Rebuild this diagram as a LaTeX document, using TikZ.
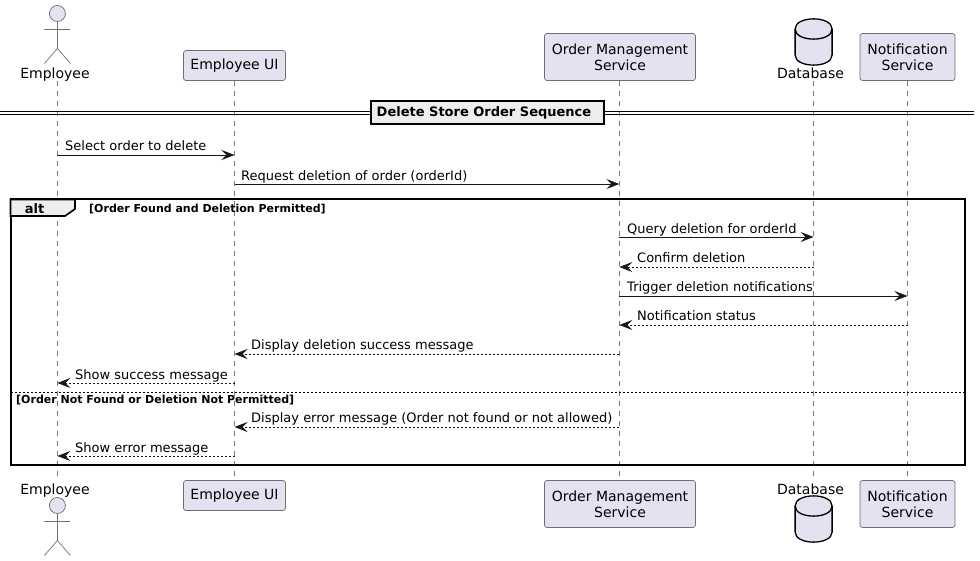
\documentclass[tikz,border=0pt]{standalone}
\usepackage{fontspec}
\setmainfont{DejaVu Sans}
\usetikzlibrary{arrows.meta}
\definecolor{partfill}{HTML}{E2E2F0}
\definecolor{partline}{HTML}{6F6F6F}
\definecolor{tabfill}{HTML}{EEEEEE}
\definecolor{lifegray}{HTML}{7A7A7A}
\definecolor{inkdark}{HTML}{181818}
\tikzset{
    part/.style={draw=partline, fill=partfill, line width=0.7pt, rounded corners=2.5pt,
        inner sep=0pt, align=center, font=\fontsize{14}{16}\selectfont},
    partname/.style={inner sep=0pt, font=\fontsize{14}{16}\selectfont, text height=10.5pt, text depth=3pt},
    lifeline/.style={draw=lifegray, line width=0.6pt, dash pattern=on 5pt off 5pt},
    msg/.style={draw=inkdark, line width=0.9pt, -{Stealth[length=13pt,width=10pt,inset=5pt]}},
    reply/.style={msg, dash pattern=on 2pt off 2pt},
    msgtext/.style={anchor=base west, inner sep=0pt, font=\fontsize{13}{15}\selectfont},
    guard/.style={anchor=base west, inner sep=0pt, font=\fontsize{11}{13}\selectfont\bfseries},
    actor/.pic={
        \draw[partline, fill=partfill, line width=0.7pt] (0,0) circle (8pt);
        \draw[partline, line width=0.7pt] (0,8) -- (0,35) (-13,16) -- (13,16)
            (-13,50) -- (0,35) -- (13,50);
    },
    dbase/.pic={
        \draw[fill=partfill, line width=1.3pt] (-18.5,10) .. controls (-18.5,-3.5) and (18.5,-3.5) .. (18.5,10)
            -- (18.5,36) .. controls (18.5,49.5) and (-18.5,49.5) .. (-18.5,36) -- cycle;
        \draw[line width=1.3pt] (-18.5,10) .. controls (-18.5,23.5) and (18.5,23.5) .. (18.5,10);
    },
}
\begin{document}
\begin{tikzpicture}[x=1pt, y=-1pt]
    \useasboundingbox (0,0) rectangle (980,561);

    % participants, top row
    \node[partname] (emp) at (55, 75) {Employee};
    \node[part, minimum width=102pt, minimum height=30pt] (ui)  at (234.5, 65.5) {Employee UI};
    \node[part, minimum width=151pt, minimum height=47pt] (oms) at (620,   57)   {Order Management\\Service};
    \node[partname] (db) at (810.5, 75) {Database};
    \node[part, minimum width=95pt,  minimum height=47pt] (ns)  at (907.5, 57)   {Notification\\Service};

    % participants, bottom row
    \node[partname] (empB) at (55, 491) {Employee};
    \node[part, minimum width=102pt, minimum height=30pt] (uiB)  at (234.5, 495.5) {Employee UI};
    \node[part, minimum width=151pt, minimum height=47pt] (omsB) at (620,   504)   {Order Management\\Service};
    \node[partname] (dbB) at (810.5, 491) {Database};
    \node[part, minimum width=95pt,  minimum height=47pt] (nsB)  at (907.5, 504)   {Notification\\Service};

    \pic at (57.4, 13.5)  {actor};
    \pic at (57.4, 505.5) {actor};
    \pic at (813.6, 19)   {dbase};
    \pic at (813.6, 496)  {dbase};

    % lifelines
    \coordinate (empL) at (57.4, 81);
    \coordinate (omsL) at (619.3, 81);
    \coordinate (dbL)  at (813.6, 81);
    \draw[lifeline] (empL)     -- (empL |- uiB.north);
    \draw[lifeline] (ui.south) -- (uiB.north);
    \draw[lifeline] (omsL)     -- (omsL |- uiB.north);
    \draw[lifeline] (dbL)      -- (dbL |- uiB.north);
    \draw[lifeline] (ns.south) -- (nsB.north);

    % divider
    \coordinate (divL) at (0, 113);
    \coordinate (divR) at (974, 113);
    \draw[line width=0.9pt] ([yshift=-1.5pt]divL) -- ([yshift=-1.5pt]divR);
    \draw[line width=0.9pt] ([yshift=1.5pt]divL)  -- ([yshift=1.5pt]divR);
    \node[draw, fill=tabfill, line width=2pt, inner sep=0pt, minimum width=233pt, minimum height=23pt] (title) at (487, 113) {};
    \node[inner sep=0pt, font=\fontsize{13}{15}\selectfont\bfseries] (titletext) at (484, 113) {Delete Store Order Sequence};

    % alt frame
    \draw[line width=2pt] (10.5,199.5) rectangle (965,464.5);
    \draw[line width=1.6pt, fill=tabfill] (10.5,199.5) -- (75,199.5) -- (75,209) -- (65,216) -- (10.5,216) -- cycle;
    \node[inner sep=0pt, font=\fontsize{13}{15}\selectfont\bfseries] (alt) at (34.5, 208.5) {alt};
    \node[guard] (g1) at (89, 212.5) {[Order Found and Deletion Permitted]};
    \draw[line width=0.9pt, dash pattern=on 2pt off 2pt] (10.5,392) coordinate (sepL) -- (965,392) coordinate (sepR);
    \node[guard] (g2) at (16, 403) {[Order Not Found or Deletion Not Permitted]};

    % messages
    \node[msgtext] (m1)  at (65, 151)  {Select order to delete};
    \node[msgtext] (m2)  at (241, 181) {Request deletion of order (orderId)};
    \node[msgtext] (m3)  at (627, 234) {Query deletion for orderId};
    \node[msgtext] (m4)  at (637, 263) {Confirm deletion};
    \node[msgtext] (m5)  at (627, 292) {Trigger deletion notifications};
    \node[msgtext] (m6)  at (637, 320) {Notification status};
    \node[msgtext] (m7)  at (251, 349) {Display deletion success message};
    \node[msgtext] (m8)  at (75, 379)  {Show success message};
    \node[msgtext] (m9)  at (251, 422) {Display error message (Order not found or not allowed)};
    \node[msgtext] (m10) at (75, 452)  {Show error message};

    \draw[msg]   (empL |- 0,155) -- (ui |- 0,155);
    \draw[msg]   (ui |- 0,184)   -- (omsL |- 0,184);
    \draw[msg]   (omsL |- 0,237) -- (dbL |- 0,237);
    \draw[reply] (dbL |- 0,267)  -- (omsL |- 0,267);
    \draw[msg]   (omsL |- 0,296) -- (ns |- 0,296);
    \draw[reply] (ns |- 0,325)   -- (omsL |- 0,325);
    \draw[reply] (omsL |- 0,354) -- (ui |- 0,354);
    \draw[reply] (ui |- 0,383)   -- (empL |- 0,383);
    \draw[reply] (omsL |- 0,427) -- (ui |- 0,427);
    \draw[reply] (ui |- 0,456)   -- (empL |- 0,456);
\end{tikzpicture}
\end{document}
